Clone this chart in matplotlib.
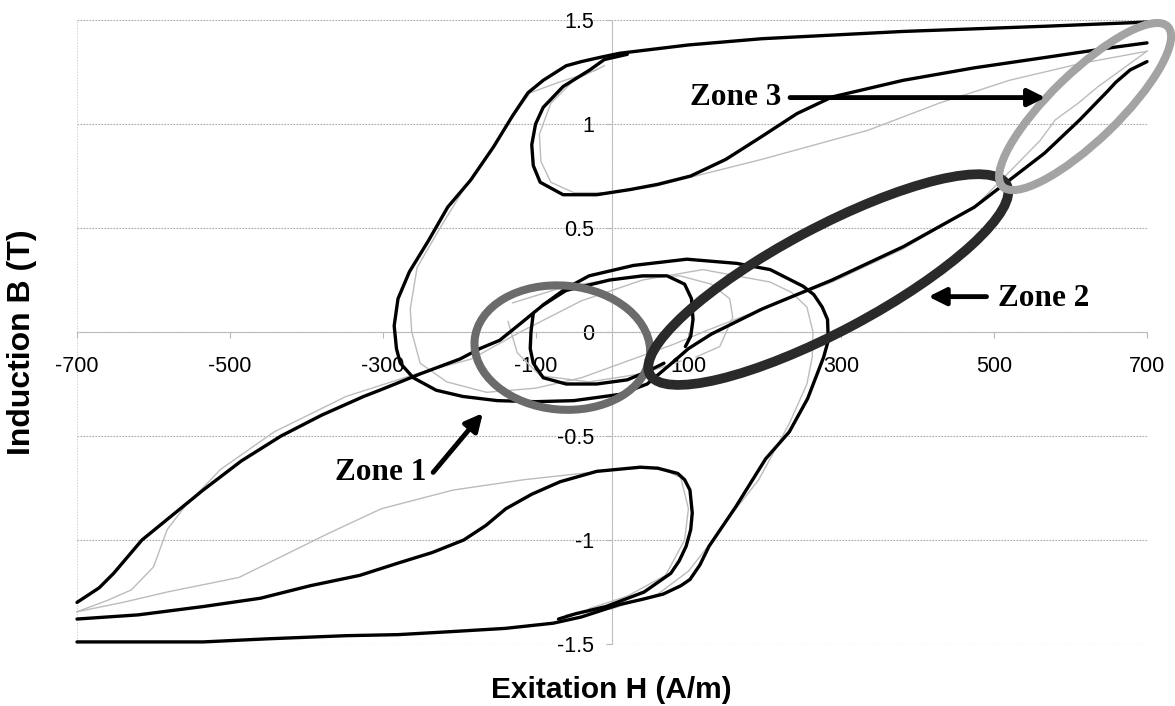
import matplotlib.pyplot as plt
from matplotlib.patches import Ellipse
from matplotlib.transforms import ScaledTranslation

plt.rcParams['font.family'] = ['Liberation Sans', 'DejaVu Sans']

# ---- black (model) curves : H in A/m, B in T ----
# ascending outer branch, reversal near +283, then descending down to -700
p1_h = [-700, -620, -535, -450, -348, -280, -208, -140, -77, -40, 10, 40, 67, 90, 102, 115,
        127, 162, 201, 232, 256, 277, 283, 282, 275, 264, 250, 207, 163, 98, 28, -30, -60,
        -90, -120, -147, -173, -199, -250, -304, -325, -380, -433, -485, -535, -575, -615,
        -652, -671, -700]
p1_b = [-1.49, -1.49, -1.49, -1.475, -1.46, -1.455, -1.44, -1.425, -1.40, -1.37, -1.31,
        -1.285, -1.26, -1.22, -1.19, -1.12, -1.03, -0.84, -0.61, -0.48, -0.32, -0.12, -0.04,
        0.06, 0.12, 0.18, 0.22, 0.30, 0.33, 0.35, 0.32, 0.27, 0.21, 0.13, 0.04, -0.04, -0.08,
        -0.13, -0.20, -0.28, -0.31, -0.40, -0.50, -0.62, -0.76, -0.88, -1.00, -1.16, -1.23,
        -1.30]

# descending outer branch, reversal near -284, then ascending up to +700
p2_h = [700, 567, 381, 196, 100, 10, -16, -40, -60, -90, -110, -130, -155, -185, -215,
        -240, -265, -280, -285, -282, -277, -260, -230, -195, -150, -100, -50, 10, 46, 75,
        100, 130, 196, 288, 381, 474, 520, 566, 612, 649, 659, 678, 700]
p2_b = [1.49, 1.47, 1.445, 1.41, 1.38, 1.34, 1.32, 1.30, 1.28, 1.21, 1.15, 1.04, 0.89, 0.73,
        0.60, 0.44, 0.29, 0.16, 0.03, -0.08, -0.15, -0.22, -0.28, -0.31, -0.33, -0.335,
        -0.33, -0.30, -0.25, -0.16, -0.08, -0.01, 0.11, 0.25, 0.41, 0.60, 0.73, 0.86, 1.02,
        1.16, 1.20, 1.26, 1.30]

# small loop around the origin (+/-100 A/m)
p3_top_h = [-90, -60, -3, 40, 72, 95, 104, 106, 103, 96]
p3_top_b = [0.13, 0.20, 0.25, 0.27, 0.27, 0.23, 0.16, 0.06, -0.02, -0.07]
p3_bot_h = [-103, -106, -107, -103, -90, -60, -20, 20, 46, 68]
p3_bot_b = [0.09, 0.0, -0.08, -0.15, -0.22, -0.25, -0.25, -0.23, -0.19, -0.15]

# upper minor loop (reversal near -105) going up to +700
p4_h = [20, -10, -29, -64, -90, -100, -105, -103, -94, -64, -20, 24, 60, 103, 149, 196,
        242, 288, 381, 474, 567, 659, 700]
p4_b = [1.335, 1.31, 1.26, 1.18, 1.08, 1.0, 0.90, 0.80, 0.72, 0.66, 0.66, 0.685, 0.71,
        0.75, 0.83, 0.94, 1.05, 1.13, 1.21, 1.27, 1.32, 1.37, 1.39]

# lower minor loop (reversal near +105) coming from -700
p5_h = [-700, -620, -535, -460, -395, -330, -279, -235, -194, -165, -139, -105, -68, -20,
        37, 60, 86, 95, 102, 105, 103, 97, 88, 77, 42, -8, -48, -70]
p5_b = [-1.38, -1.36, -1.32, -1.28, -1.22, -1.17, -1.11, -1.06, -1.00, -0.93, -0.85, -0.78,
        -0.72, -0.67, -0.65, -0.655, -0.68, -0.71, -0.76, -0.87, -0.95, -1.03, -1.10,
        -1.16, -1.25, -1.32, -1.355, -1.38]

# ---- grey (measured) curves ----
g1_h = [-60, 0, 60, 100, 132, 160, 192, 232, 255, 262, 263, 255, 235, 207, 119, 40, -40,
        -120, -184, -255, -348, -442, -512, -559, -582, -600, -629, -660, -700]
g1_b = [-1.36, -1.33, -1.26, -1.15, -1.00, -0.86, -0.71, -0.44, -0.25, -0.12, 0.0, 0.12,
        0.19, 0.24, 0.30, 0.25, 0.15, 0.0, -0.13, -0.20, -0.31, -0.48, -0.66, -0.84, -0.95,
        -1.13, -1.24, -1.29, -1.345]

g2_h = [-700, -640, -582, -488, -372, -302, -208, -115, 10, 60, 90, 100, 95, 70, 20, -30]
g2_b = [-1.345, -1.30, -1.25, -1.18, -0.97, -0.85, -0.76, -0.71, -0.66, -0.65, -0.70,
        -0.85, -1.00, -1.17, -1.27, -1.33]

g3_h = [-20, -70, -107, -137, -165, -195, -225, -255, -264, -262, -251, -216, -164, -100,
        -40, 20, 80, 126, 196, 288, 381, 474, 520, 560, 580, 610, 636, 670, 700]
g3_b = [1.26, 1.20, 1.15, 1.00, 0.84, 0.68, 0.50, 0.31, 0.11, 0.0, -0.15, -0.24, -0.29,
        -0.27, -0.22, -0.14, -0.06, 0.01, 0.11, 0.24, 0.40, 0.60, 0.77, 0.92, 1.02, 1.10,
        1.18, 1.27, 1.35]

g4_h = [-10, -50, -80, -95, -93, -80, -50, 0, 56, 120, 196, 335, 428, 520, 612, 700]
g4_b = [1.28, 1.21, 1.10, 0.95, 0.82, 0.72, 0.67, 0.67, 0.70, 0.76, 0.83, 0.97, 1.10,
        1.21, 1.29, 1.35]

g5_top_h = [-130, -60, 20, 89, 130, 154, 158, 141, 110]
g5_top_b = [0.14, 0.22, 0.26, 0.27, 0.23, 0.16, 0.07, -0.07, -0.12]
g5_bot_h = [-136, -124, -94, -30, 40, 90]
g5_bot_b = [0.05, -0.10, -0.21, -0.24, -0.20, -0.14]

# ---- axes ----
x_ticks = [-700, -500, -300, -100, 100, 300, 500, 700]
y_ticks = [-1.5, -1, -0.5, 0, 0.5, 1, 1.5]
y_labels = ['-1.5', '-1', '-0.5', '0', '0.5', '1', '1.5']

# zone marks: centre (H, B), size in pixels, angle, colour, width
zones = {
    'Zone 1': dict(c=(-65, -0.075), w=176, h=124, ang=-5, col='#6b6b6b', lw=5.8),
    'Zone 2': dict(c=(283, 0.252), w=404, h=104, ang=28, col='#2a2a2a', lw=7.0),
    'Zone 3': dict(c=(619, 1.084), w=230, h=68, ang=44, col='#a3a3a3', lw=5.8),
}
zone_text = {'Zone 1': (-302, -0.675), 'Zone 2': (565, 0.16), 'Zone 3': (162, 1.127)}
zone_arrow = {'Zone 1': ((-234, -0.675), (-169, -0.39)),
              'Zone 2': ((490, 0.17), (414, 0.17)),
              'Zone 3': ((233, 1.127), (567, 1.127))}

fig = plt.figure(figsize=(11.75, 7.06), dpi=100)
ax = fig.add_axes([77 / 1175, 62 / 706, 1070 / 1175, 624 / 706])
ax.set_xlim(-700, 700)
ax.set_ylim(-1.5, 1.5)

grid_kw = dict(color='#a8a8a8', lw=0.8, ls=(0, (1.5, 1.2)), zorder=0)
for yv in y_ticks:
    ax.axhline(yv, **grid_kw)
for xv in (-700, 700):
    ax.axvline(xv, color='#d0d0d0', lw=0.7, ls=(0, (1.5, 1.5)), zorder=0)

for s in ('top', 'right'):
    ax.spines[s].set_visible(False)
ax.spines['left'].set_position(('data', 0))
ax.spines['bottom'].set_position(('data', 0))
for s in ('left', 'bottom'):
    ax.spines[s].set_color('#b8b8b8')
    ax.spines[s].set_linewidth(0.8)
    ax.spines[s].set_linestyle((0, (1.5, 1.2)))

ax.set_xticks(x_ticks)
ax.set_xticklabels([str(v) for v in x_ticks])
ax.set_yticks(y_ticks)
ax.set_yticklabels(y_labels)
ax.tick_params(axis='x', length=4, color='#b8b8b8', pad=13, labelsize=15.5)
ax.tick_params(axis='y', length=4, color='#b8b8b8', pad=9, labelsize=15.5)

grey_kw = dict(color='#bcbcbc', lw=1.0, zorder=2, clip_on=False,
               solid_joinstyle='round')
for h, b in [(g1_h, g1_b), (g2_h, g2_b), (g3_h, g3_b), (g4_h, g4_b),
             (g5_top_h, g5_top_b), (g5_bot_h, g5_bot_b)]:
    ax.plot(h, b, **grey_kw)

black_kw = dict(color='black', lw=2.4, zorder=3, clip_on=False,
                solid_joinstyle='round', solid_capstyle='round')
for h, b in [(p1_h, p1_b), (p2_h, p2_b), (p3_top_h, p3_top_b), (p3_bot_h, p3_bot_b),
             (p4_h, p4_b), (p5_h, p5_b)]:
    ax.plot(h, b, **black_kw)

for name, z in zones.items():
    tr = ScaledTranslation(z['c'][0], z['c'][1], ax.transData)
    e = Ellipse((0, 0), z['w'], z['h'], angle=z['ang'], transform=tr, fill=False,
                edgecolor=z['col'], lw=z['lw'], zorder=5, clip_on=False)
    ax.add_artist(e)
    ax.text(*zone_text[name], name, family=['Liberation Serif', 'DejaVu Serif'],
            fontweight='bold', fontsize=22.5, ha='center', va='center', zorder=6)
    tail, tip = zone_arrow[name]
    ax.annotate('', xy=tip, xytext=tail, zorder=6,
                arrowprops=dict(arrowstyle='-|>', color='black', lw=3.5,
                                mutation_scale=26, shrinkA=0, shrinkB=0))

fig.text(22 / 1175, 1 - 342 / 706, 'Induction B (T)', rotation=90, fontsize=23,
         fontweight='bold', ha='center', va='center')
fig.text(611 / 1175, 1 - 690 / 706, 'Exitation H (A/m)', fontsize=21.5,
         fontweight='bold', ha='center', va='center')

fig.savefig('out.png', dpi=100)
